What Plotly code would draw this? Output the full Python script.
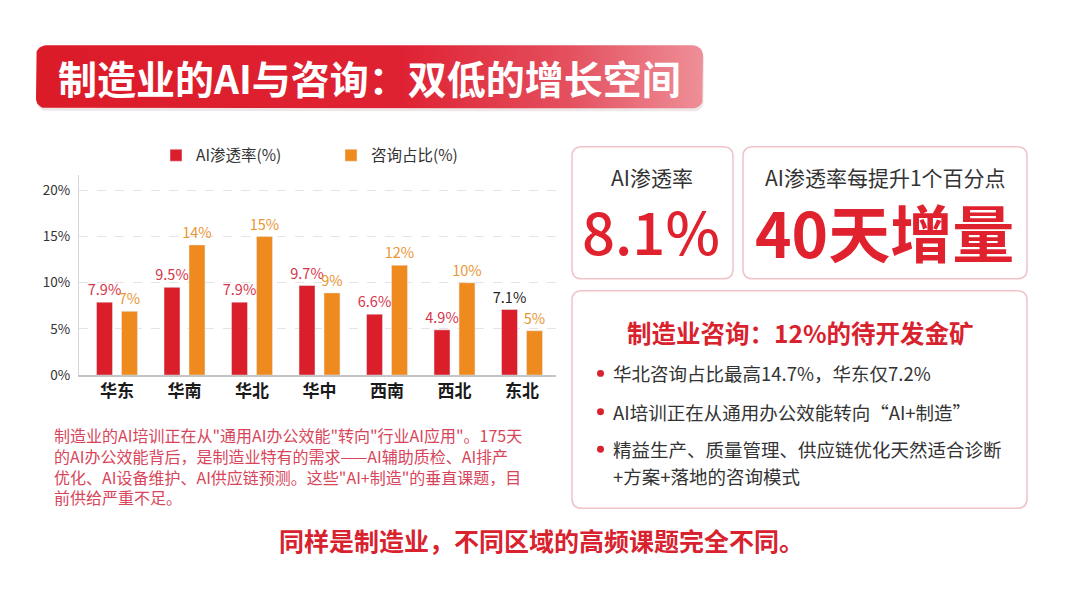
import numpy as np
import plotly.graph_objects as go

# ---------------- data ----------------
regions = ["华东", "华南", "华北", "华中", "西南", "西北", "东北"]
ai_rate = [7.9, 9.5, 7.9, 9.7, 6.6, 4.9, 7.1]
consult_share = [6.9, 14.1, 15.0, 8.9, 11.9, 10.0, 4.8]
ai_label_colors = ["#d8334a", "#d8334a", "#d8334a", "#d8334a", "#d8334a", "#d8334a", "#222222"]
y_ticks = [0, 5, 10, 15, 20]
y_ticklabels = ["0%", "5%", "10%", "15%", "20%"]
series_names = ["AI渗透率(%)", "咨询占比(%)"]

title_text = "制造业的AI与咨询：双低的增长空间"
para_lines = [
    "制造业的AI培训正在从\"通用AI办公效能\"转向\"行业AI应用\"。175天",
    "的AI办公效能背后，是制造业特有的需求——AI辅助质检、AI排产",
    "优化、AI设备维护、AI供应链预测。这些\"AI+制造\"的垂直课题，目",
    "前供给严重不足。",
]
kpi1_label, kpi1_value = "AI渗透率", "8.1%"
kpi2_label, kpi2_value = "AI渗透率每提升1个百分点", "40天增量"
box3_title = "制造业咨询：12%的待开发金矿"
bullets = [
    ["华北咨询占比最高14.7%，华东仅7.2%"],
    ["AI培训正在从通用办公效能转向“AI+制造”"],
    ["精益生产、质量管理、供应链优化天然适合诊断", "+方案+落地的咨询模式"],
]
footer = "同样是制造业，不同区域的高频课题完全不同。"

# ---------------- styling ----------------
W, H = 1080, 608
FONT = "Noto Sans CJK SC"
RED = "#da1f2b"
ORANGE = "#ef8b1e"
BIGRED = "#e0222e"


def px_x(v):
    return v / W


def px_y(v):
    return 1 - v / H


def rr_path(x0, y0, x1, y1, r):
    return (f"M{x0+r},{y0} L{x1-r},{y0} Q{x1},{y0} {x1},{y0+r} "
            f"L{x1},{y1-r} Q{x1},{y1} {x1-r},{y1} L{x0+r},{y1} "
            f"Q{x0},{y1} {x0},{y1-r} L{x0},{y0+r} Q{x0},{y0} {x0+r},{y0} Z")


def rr_points(x0, y0, x1, y1, r, n=10):
    xs, ys = [], []
    corners = [(x1 - r, y0 + r, -np.pi / 2, 0), (x1 - r, y1 - r, 0, np.pi / 2),
               (x0 + r, y1 - r, np.pi / 2, np.pi), (x0 + r, y0 + r, np.pi, 1.5 * np.pi)]
    for cx, cy, a0, a1 in corners:
        t = np.linspace(a0, a1, n)
        xs.extend(cx + r * np.cos(t))
        ys.extend(cy + r * np.sin(t))
    xs.append(xs[0]); ys.append(ys[0])
    return xs, ys


fig = go.Figure()

# bars
fig.add_trace(go.Bar(
    x=regions, y=ai_rate, name=series_names[0], marker_color=RED,
    text=[f"{v:.1f}%" for v in ai_rate], textposition="outside", constraintext="none",
    textfont=dict(size=14.5, color=ai_label_colors, family=FONT),
    cliponaxis=False, xaxis="x", yaxis="y",
))
fig.add_trace(go.Bar(
    x=regions, y=consult_share, name=series_names[1], marker_color=ORANGE,
    text=[f"{v:.0f}%" for v in consult_share], textposition="outside", constraintext="none",
    textfont=dict(size=14.5, color="#ea9634", family=FONT),
    cliponaxis=False, xaxis="x", yaxis="y",
))

# title bar with gradient (decorative, on pixel overlay axes)
tx, ty = rr_points(36, 46, 703, 110, 10)
sx, sy = rr_points(37, 49, 704, 113, 10)
fig.add_trace(go.Scatter(x=sx, y=sy, fill="toself", mode="lines", line=dict(width=0),
                         fillcolor="rgba(120,60,60,0.12)", hoverinfo="skip",
                         showlegend=False, xaxis="x2", yaxis="y2"))
fig.add_trace(go.Scatter(
    x=tx, y=ty, fill="toself", mode="lines", line=dict(width=0),
    fillgradient=dict(type="horizontal",
                      colorscale=[[0, "#dc1b29"], [0.55, "#df2233"], [0.8, "#e4505f"], [1, "#ee8f98"]]),
    hoverinfo="skip", showlegend=False, xaxis="x2", yaxis="y2"))

cat_px = 67.5
x0_px, x1_px = 79, 556
c0 = 117
xr = [-(c0 - x0_px) / cat_px, (x1_px - c0) / cat_px]

y0_px, ytop_px = 380.7, 178
ppu = (380.7 - 193.3) / 20
yr_top = (y0_px - ytop_px) / ppu

shapes = []
# panels
for (a, b, c, d) in [(572, 149, 733, 283), (743, 149, 1027, 283), (572, 295, 1027, 516)]:
    shapes.append(dict(type="path", path=rr_path(a, b, c, d, 10), xref="x2", yref="y2",
                       line=dict(color="#efc3c8", width=1.5), fillcolor="white", layer="below"))
# bullets
bullet_y = [379, 418, 456]
for by in bullet_y:
    shapes.append(dict(type="circle", xref="x2", yref="y2", x0=597, x1=604, y0=by - 3.5, y1=by + 3.5,
                       fillcolor="#d8222e", line=dict(width=0)))

ann = []
ann.append(dict(text=f"<b>{title_text}</b>", x=56, y=78, xref="x2", yref="y2", xanchor="left",
                yanchor="middle", showarrow=False, font=dict(size=39, color="white", family=FONT)))
ann.append(dict(text="<br>".join(para_lines), x=52, y=427, xref="x2", yref="y2", xanchor="left",
                yanchor="top", align="left", showarrow=False,
                font=dict(size=16, color="#d8455a", family=FONT)))
ann.append(dict(text=kpi1_label, x=652, y=180, xref="x2", yref="y2", showarrow=False,
                font=dict(size=21, color="#333333", family=FONT)))
ann.append(dict(text=kpi1_value, x=651, y=233, xref="x2", yref="y2", showarrow=False,
                font=dict(size=58, color=BIGRED, family=FONT, weight=500)))
ann.append(dict(text=kpi2_label, x=885, y=180, xref="x2", yref="y2", showarrow=False,
                font=dict(size=21, color="#333333", family=FONT)))
ann.append(dict(text=f"<b>{kpi2_value}</b>", x=884, y=234, xref="x2", yref="y2", showarrow=False,
                font=dict(size=62, color=BIGRED, family=FONT)))
ann.append(dict(text=f"<b>{box3_title}</b>", x=800, y=337, xref="x2", yref="y2", showarrow=False,
                font=dict(size=24.5, color="#d8222e", family=FONT)))
line_y = [[379], [418], [456, 483]]
for blines, ys in zip(bullets, line_y):
    for t, yy in zip(blines, ys):
        ann.append(dict(text=t, x=611, y=yy, xref="x2", yref="y2", xanchor="left", yanchor="middle",
                        showarrow=False, font=dict(size=18.5, color="#333333", family=FONT)))
ann.append(dict(text=f"<b>{footer}</b>", x=541, y=548, xref="x2", yref="y2", showarrow=False,
                font=dict(size=25, color="#d8222e", family=FONT)))

fig.update_layout(
    width=W, height=H, margin=dict(l=0, r=0, t=0, b=0),
    paper_bgcolor="white", plot_bgcolor="rgba(0,0,0,0)",
    font=dict(family=FONT, color="#333333"),
    barmode="group", bargap=0.26, bargroupgap=0.36,
    xaxis=dict(domain=[px_x(x0_px), px_x(x1_px)], range=xr, type="category",
               showline=True, linecolor="#c4c4c4", linewidth=1.5, ticks="", showgrid=False,
               tickfont=dict(size=17, color="#1a1a1a", family=FONT, weight="bold"), anchor="y",
               fixedrange=True),
    yaxis=dict(domain=[px_y(y0_px), px_y(ytop_px)], range=[0, yr_top], tickvals=y_ticks,
               ticktext=y_ticklabels, showline=True, linecolor="#d6d6d6", linewidth=1.2,
               gridcolor="#e4e4e4", griddash="dash", zeroline=False, ticks="",
               ticklabelstandoff=5, tickfont=dict(size=13.5, color="#333333"), anchor="x",
               fixedrange=True),
    xaxis2=dict(domain=[0, 1], range=[0, W], visible=False, anchor="y2", fixedrange=True),
    yaxis2=dict(domain=[0, 1], range=[H, 0], visible=False, anchor="x2", fixedrange=True),
    legend=dict(orientation="h", x=px_x(156), y=px_y(158), xanchor="left", yanchor="middle",
                font=dict(size=15.5, color="#333333"), entrywidth=130, entrywidthmode="pixels",
                bgcolor="rgba(0,0,0,0)", traceorder="normal"),
    shapes=shapes, annotations=ann,
)

fig.write_html("out.html")
